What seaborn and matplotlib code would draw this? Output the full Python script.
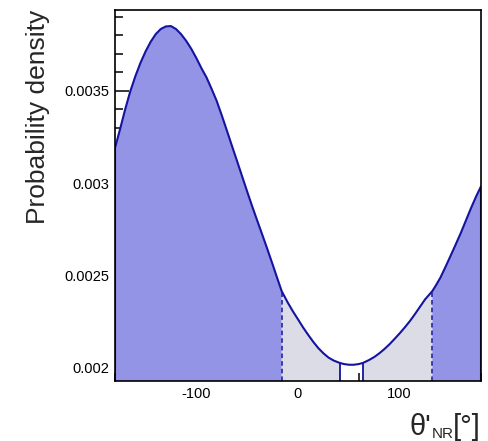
import matplotlib
matplotlib.use("Agg")
import numpy as np
import pandas as pd
import matplotlib.pyplot as plt
import seaborn as sns
from matplotlib.ticker import MultipleLocator, FuncFormatter

# Angle (degrees) and probability density along the curve
theta = [-180, -175, -170, -165, -160, -155, -150, -145, -140, -135,
         -130, -125, -120, -115, -110, -105, -100, -95, -90, -85,
         -80, -75, -70, -65, -60, -55, -50, -45, -40, -35,
         -30, -25, -20, -16, -10, -5, 0, 5, 10, 15,
         20, 25, 30, 35, 41, 45, 50, 55, 60, 64,
         70, 75, 80, 85, 90, 95, 100, 105, 110, 115,
         120, 125, 132, 135, 140, 145, 150, 155, 160, 165,
         170, 175, 180]
density = [0.003190, 0.003292, 0.003399, 0.003496, 0.003578, 0.003650, 0.003712, 0.003764, 0.003806, 0.003834,
           0.003848, 0.003850, 0.003834, 0.003806, 0.003770, 0.003727, 0.003677, 0.003622, 0.003572, 0.003510,
           0.003445, 0.003367, 0.003285, 0.003202, 0.003120, 0.003037, 0.002954, 0.002873, 0.002795, 0.002718,
           0.002640, 0.002560, 0.002478, 0.002414, 0.002352, 0.002305, 0.002262, 0.002218, 0.002178, 0.002140,
           0.002106, 0.002078, 0.002055, 0.002039, 0.002026, 0.002020, 0.002016, 0.002016, 0.002020, 0.002026,
           0.002042, 0.002058, 0.002078, 0.002101, 0.002127, 0.002156, 0.002186, 0.002218, 0.002252, 0.002290,
           0.002330, 0.002370, 0.002414, 0.002440, 0.002487, 0.002545, 0.002605, 0.002666, 0.002728, 0.002795,
           0.002862, 0.002925, 0.002982]

# Interval edges: outer band edges (dashed) and inner gap edges (solid)
band_edges = [-16, 132]
gap_edges = [41, 64]

sns.set_style("ticks")
plt.rcParams["font.family"] = ["Liberation Sans", "DejaVu Sans"]
plt.rcParams["axes.unicode_minus"] = False

df = pd.DataFrame({"theta": theta, "density": density})
x = df["theta"].to_numpy()
y = df["density"].to_numpy()

YMIN, YMAX = 0.001928, 0.003937
DARK = "#9494e6"
LIGHT = "#dcdce6"
LINE = "#1414a0"

fig = plt.figure(figsize=(4.89, 4.41), dpi=100)
ax = fig.add_axes([115 / 489, 60 / 441, 366 / 489, 371 / 441])

lo, hi = band_edges
w0, w1 = gap_edges
ax.fill_between(x, YMIN, y, where=(x <= lo) | (x >= hi), color=DARK, lw=0)
ax.fill_between(x, YMIN, y, where=((x >= lo) & (x <= w0)) | ((x >= w1) & (x <= hi)),
                color=LIGHT, lw=0)

sns.lineplot(data=df, x="theta", y="density", color=LINE, lw=1.5, ax=ax)

def val_at(t):
    return df.loc[df["theta"] == t, "density"].iloc[0]

for t in band_edges:
    ax.vlines(t, YMIN, val_at(t), colors=LINE, linestyles=(0, (3, 2)), lw=1.1)
for t in gap_edges:
    ax.vlines(t, YMIN, val_at(t), colors=LINE, lw=1.3)
for t in (theta[0], theta[-1]):
    ax.vlines(t, YMIN, val_at(t), colors=LINE, lw=1.5)

ax.set_xlim(-180, 180)
ax.set_ylim(YMIN, YMAX)
ax.xaxis.set_major_locator(MultipleLocator(100))
ax.xaxis.set_minor_locator(MultipleLocator(20))
ax.yaxis.set_major_locator(MultipleLocator(0.0005))
ax.yaxis.set_minor_locator(MultipleLocator(0.0001))
ax.yaxis.set_major_formatter(FuncFormatter(lambda v, p: f"{v:g}"))
ax.tick_params(which="both", direction="in", width=1.1, colors="black",
               labelsize=10.5, pad=4)
ax.tick_params(which="major", length=10)
ax.tick_params(which="minor", length=6)
ax.set_xlabel("")
ax.set_ylabel("")
for s in ax.spines.values():
    s.set_visible(True)
    s.set_linewidth(1.2)
    s.set_color("black")

fig.text(38 / 489, (441 - 10) / 441, "Probability density", rotation=90,
         ha="center", va="top", fontsize=19)

# Axis title: θ' with subscript NR, then unit
base = (441 - 435) / 441
fig.text(481 / 489, base, "[°]", ha="right", va="baseline", fontsize=21)
fig.text(432 / 489, (441 - 438.5) / 441, "NR", ha="left", va="baseline", fontsize=11)
fig.text(431 / 489, base, "θ'", ha="right", va="baseline", fontsize=21)

fig.savefig("out.png", dpi=100)
